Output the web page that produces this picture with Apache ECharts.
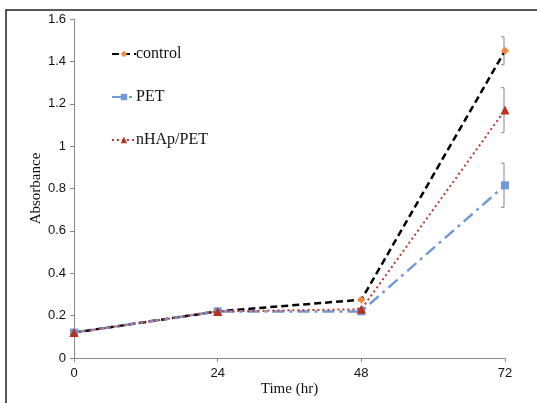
<!DOCTYPE html>
<html>
<head>
<meta charset="utf-8">
<script src="https://cdn.jsdelivr.net/npm/echarts@6/dist/echarts.min.js"></script>
<style>html,body{margin:0;padding:0;background:#fff;}#c{width:537px;height:403px;}</style>
</head>
<body>
<div id="c"></div>
<script>
var times = [0, 24, 48, 72];
var xTicks = [0, 24, 48, 72];
var yTicks = [0, 0.2, 0.4, 0.6, 0.8, 1, 1.2, 1.4, 1.6];
var controlVals = [0.12, 0.22, 0.275, 1.45];
var petVals = [0.12, 0.22, 0.22, 0.815];
var nhapVals = [0.12, 0.22, 0.23, 1.17];
var controlErr = [0, 0, 0, 0.066];
var petErr = [0, 0, 0, 0.104];
var nhapErr = [0, 0, 0, 0.106];

function pairs(vals) { return times.map(function (t, i) { return [t, vals[i]]; }); }
function errData(vals, errs) {
  var out = [];
  times.forEach(function (t, i) { if (errs[i] > 0) out.push([t, vals[i] - errs[i], vals[i] + errs[i]]); });
  return out;
}
function errSeries(vals, errs) {
  return {
    type: 'custom', silent: true, z: 1,
    data: errData(vals, errs),
    encode: { x: 0, y: [1, 2] },
    renderItem: function (params, api) {
      var lo = api.coord([api.value(0), api.value(1)]);
      var hi = api.coord([api.value(0), api.value(2)]);
      var x = lo[0] - 1, cap = 3;
      var st = { stroke: '#999', lineWidth: 1.2, fill: null };
      return { type: 'group', children: [
        { type: 'line', shape: { x1: x, y1: lo[1], x2: x, y2: hi[1] }, style: st },
        { type: 'line', shape: { x1: x - cap, y1: lo[1], x2: x, y2: lo[1] }, style: st },
        { type: 'line', shape: { x1: x - cap, y1: hi[1], x2: x, y2: hi[1] }, style: st }
      ]};
    }
  };
}

var chart = echarts.init(document.getElementById('c'), null, { renderer: 'canvas' });
chart.setOption({
  animation: false,
  backgroundColor: '#fff',
  graphic: [{ type: 'rect', shape: { x: 6, y: 10, width: 700, height: 600 }, style: { fill: null, stroke: '#222', lineWidth: 1.5 }, silent: true }],
  grid: { left: 74, right: 32, top: 19, bottom: 45, outerBoundsMode: 'none', containLabel: false },
  legend: {
    orient: 'vertical', left: 106, top: 41, itemGap: 27, itemWidth: 24, itemHeight: 8,
    textStyle: { fontFamily: 'Liberation Serif', fontSize: 16, color: '#111', padding: [0, 0, 0, -5] },
    data: ['control', 'PET', 'nHAp/PET']
  },
  xAxis: {
    type: 'value', min: 0, max: 72, interval: 24,
    name: 'Time (hr)', nameLocation: 'middle', nameGap: 24, nameMoveOverlap: false,
    nameTextStyle: { fontFamily: 'Liberation Serif', fontSize: 15, color: '#111' },
    axisLine: { lineStyle: { color: '#888' } },
    axisTick: { show: true, length: 4, lineStyle: { color: '#888' } },
    axisLabel: { fontFamily: 'Liberation Sans', fontSize: 13, color: '#111', margin: 9,
      formatter: function (v) { return xTicks.indexOf(v) >= 0 ? String(v) : ''; } },
    splitLine: { show: false }
  },
  yAxis: {
    type: 'value', min: 0, max: 1.6, interval: 0.2,
    name: 'Absorbance', nameLocation: 'middle', nameGap: 30, nameMoveOverlap: false,
    nameTextStyle: { fontFamily: 'Liberation Serif', fontSize: 15, color: '#111' },
    axisLine: { show: true, lineStyle: { color: '#888' } },
    axisTick: { show: true, length: 4, lineStyle: { color: '#888' } },
    axisLabel: { fontFamily: 'Liberation Sans', fontSize: 13, color: '#111', margin: 8,
      formatter: function (v) {
        var r = Math.round(v * 10) / 10;
        for (var i = 0; i < yTicks.length; i++) if (Math.abs(yTicks[i] - r) < 1e-9) return String(yTicks[i]);
        return '';
      } },
    splitLine: { show: false }
  },
  series: [
    errSeries(controlVals, controlErr),
    errSeries(petVals, petErr),
    errSeries(nhapVals, nhapErr),
    {
      name: 'control', type: 'line', data: pairs(controlVals), z: 3,
      symbol: 'diamond', symbolSize: 8,
      lineStyle: { color: '#000', width: 2.5, type: [7, 4] },
      itemStyle: { color: '#f5883a' }
    },
    {
      name: 'PET', type: 'line', data: pairs(petVals), z: 4,
      symbol: 'rect', symbolSize: 8,
      lineStyle: { color: '#7099dc', width: 2.5, type: [12, 5, 3, 5] },
      itemStyle: { color: '#7099dc' }
    },
    {
      name: 'nHAp/PET', type: 'line', data: pairs(nhapVals), z: 5,
      symbol: 'triangle', symbolSize: 9,
      lineStyle: { color: '#c0392b', width: 2, type: [2, 3] },
      itemStyle: { color: '#b8321e' }
    }
  ]
});
</script>
</body>
</html>
